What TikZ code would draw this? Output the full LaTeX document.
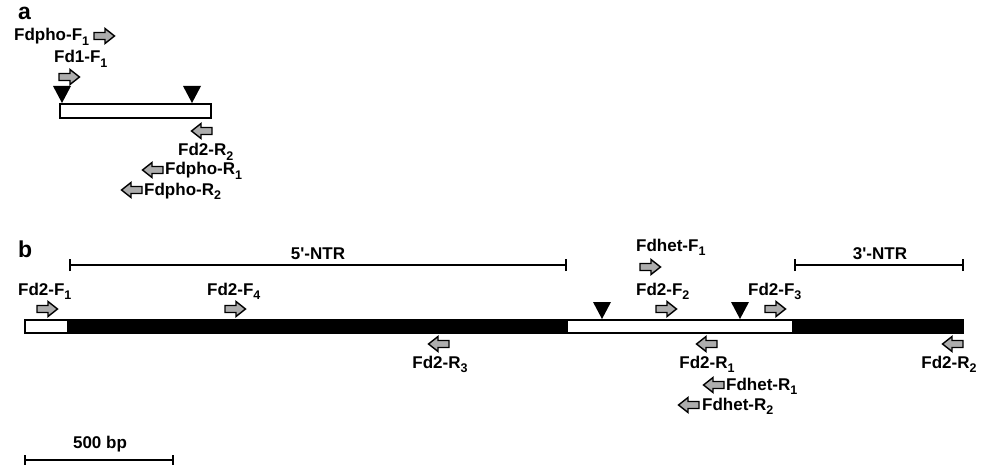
\documentclass[tikz,border=0pt]{standalone}
\usepackage{fontspec}
\setmainfont{Liberation Sans}
\newcommand\subx[1]{\raisebox{-0.28em}{\fontsize{12.5}{12.5}\selectfont #1}}
\begin{document}
\begin{tikzpicture}[x=1pt,y=-1pt,
  lbl/.style={font=\fontsize{17}{19}\selectfont\bfseries, inner sep=0pt},
  panel/.style={font=\fontsize{23}{25}\selectfont\bfseries, inner sep=0pt},
  primer/.style={fill=black!32, draw=black, line width=1.4pt, line join=miter},
  bar/.style={draw=black, line width=1.6pt},
  ruler/.style={draw=black, line width=1.6pt},
  pics/fwd/.style={code={\draw[primer] (-10,-3.5) -- (1,-3.5) -- (1,-7.5) -- (10.5,0) -- (1,7.5) -- (1,3.5) -- (-10,3.5) -- cycle;}},
  pics/rev/.style={code={\draw[primer] (10,-3.5) -- (-1,-3.5) -- (-1,-7.5) -- (-10.5,0) -- (-1,7.5) -- (-1,3.5) -- (10,3.5) -- cycle;}},
  pics/site/.style={code={\fill[black] (-9,-17) -- (9,-17) -- (0,0) -- cycle;}}
]
\useasboundingbox (0,0) rectangle (984,465);

% ---------------- panel a ----------------
\node[panel, anchor=base west] (pa) at (18,20) {a};
\node[lbl, anchor=base west] (fdphoF1) at (14,41) {Fdpho-F\subx{1}};
\pic at (104,36) {fwd};
\node[lbl, anchor=base west] (fd1F1) at (54,63) {Fd1-F\subx{1}};
\pic at (69,77) {fwd};
\draw[bar, fill=white] (60,104) rectangle (211,118);
\pic at (62,103) {site};
\pic at (192,103) {site};
\pic at (202,131) {rev};
\node[lbl, anchor=base west] (fd2R2a) at (178,156) {Fd2-R\subx{2}};
\pic at (153,170) {rev};
\node[lbl, anchor=base west] (fdphoR1) at (165,175) {Fdpho-R\subx{1}};
\pic at (132,190) {rev};
\node[lbl, anchor=base west] (fdphoR2) at (144,195) {Fdpho-R\subx{2}};

% ---------------- panel b ----------------
\node[panel, anchor=base west] (pb) at (18,257) {b};
\coordinate (n5a) at (70,265);
\coordinate (n5b) at (566,265);
\draw[ruler] (n5a) -- (n5b);
\draw[ruler] ([yshift=-6]n5a) -- ([yshift=6]n5a);
\draw[ruler] ([yshift=-6]n5b) -- ([yshift=6]n5b);
\node[lbl, anchor=base] (ntr5) at (318,259) {5\textquotesingle-NTR};
\coordinate (n3a) at (795,265);
\coordinate (n3b) at (963,265);
\draw[ruler] (n3a) -- (n3b);
\draw[ruler] ([yshift=-6]n3a) -- ([yshift=6]n3a);
\draw[ruler] ([yshift=-6]n3b) -- ([yshift=6]n3b);
\node[lbl, anchor=base] (ntr3) at (880,259) {3\textquotesingle-NTR};

\node[lbl, anchor=base west] (fdhetF1) at (636,251) {Fdhet-F\subx{1}};
\pic at (650,267) {fwd};

\node[lbl, anchor=base west] (fd2F1) at (18,295) {Fd2-F\subx{1}};
\pic at (47,309) {fwd};
\node[lbl, anchor=base west] (fd2F4) at (207,295) {Fd2-F\subx{4}};
\pic at (235,309) {fwd};
\node[lbl, anchor=base west] (fd2F2) at (636,295) {Fd2-F\subx{2}};
\pic at (666,309) {fwd};
\node[lbl, anchor=base west] (fd2F3) at (748,295) {Fd2-F\subx{3}};
\pic at (775,309) {fwd};

% genome bar
\draw[bar, fill=white] (25,320) rectangle (68,333);
\draw[bar, fill=black] (68,320) rectangle (567,333);
\draw[bar, fill=white] (567,320) rectangle (793,333);
\draw[bar, fill=black] (793,320) rectangle (963,333);
\pic at (602,319) {site};
\pic at (740,319) {site};

\pic at (439,344) {rev};
\node[lbl, anchor=base] (fd2R3) at (440,368) {Fd2-R\subx{3}};
\pic at (707,344) {rev};
\node[lbl, anchor=base] (fd2R1) at (707,368) {Fd2-R\subx{1}};
\pic at (714,385) {rev};
\node[lbl, anchor=base west] (fdhetR1) at (726,390) {Fdhet-R\subx{1}};
\pic at (689,405) {rev};
\node[lbl, anchor=base west] (fdhetR2) at (702,410) {Fdhet-R\subx{2}};
\pic at (953,344) {rev};
\node[lbl, anchor=base] (fd2R2b) at (949,368) {Fd2-R\subx{2}};

% scale bar
\coordinate (s1) at (25,460);
\coordinate (s2) at (173,460);
\draw[ruler] (s1) -- (s2);
\draw[ruler] ([yshift=-6]s1) -- ([yshift=5]s1);
\draw[ruler] ([yshift=-6]s2) -- ([yshift=5]s2);
\node[lbl, anchor=base] (scl) at (100,448) {500 bp};
\end{tikzpicture}
\end{document}
